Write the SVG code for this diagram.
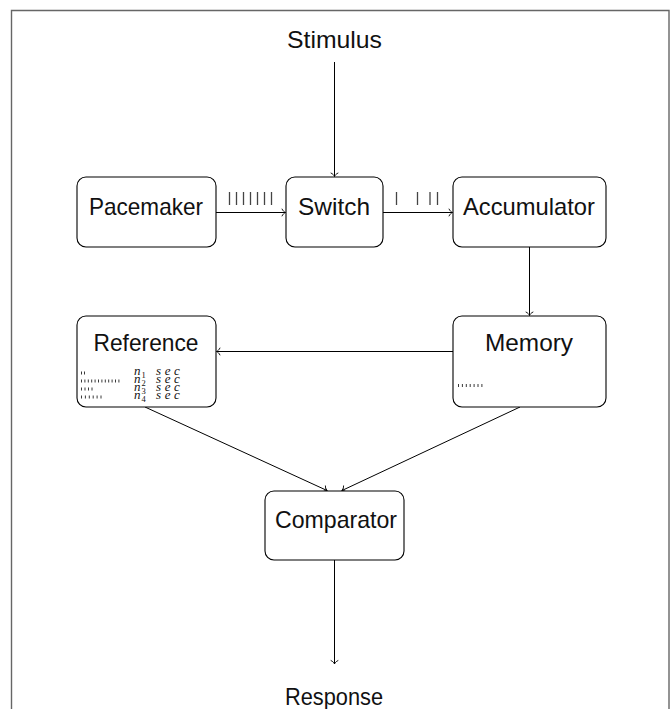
<svg xmlns="http://www.w3.org/2000/svg" width="671" height="709" viewBox="0 0 671 709">
<style>
.lbl{font-family:"Liberation Sans",Arial,sans-serif;font-size:24px;fill:#111}
.box{fill:#fff;stroke:#000;stroke-width:1.1}
.con{stroke:#000;stroke-width:1;fill:none}
.tick{stroke:#444;stroke-width:1.3}
.st{stroke:#222;stroke-width:0.9}
.m{font-family:"Liberation Serif","Times New Roman",serif;font-style:italic;font-size:13px;fill:#111}
.sec{font-family:"Liberation Serif","Times New Roman",serif;font-style:italic;font-size:13px;fill:#111;letter-spacing:3.6px}
.sub{font-family:"Liberation Serif","Times New Roman",serif;font-size:8.5px;fill:#111}
</style>
<defs>
<marker id="to" markerUnits="userSpaceOnUse" markerWidth="10" markerHeight="10" viewBox="-5 -5 10 10" refX="0" refY="0" orient="auto">
<path d="M-3.6,-3.8 C-2.6,-1.6 -1.1,-0.4 0,0 C-1.1,0.4 -2.6,1.6 -3.6,3.8" fill="none" stroke="#000" stroke-width="0.9"/>
</marker>
</defs>
<rect x="0" y="0" width="671" height="709" fill="#fff"/>
<path d="M11.5,720 V10.5 H669 V720" fill="none" stroke="#666" stroke-width="1.4"/>

<g id="connectors">
<line class="con" x1="334.5" y1="62" x2="334.5" y2="176.5" marker-end="url(#to)"/>
<line class="con" x1="216" y1="212.5" x2="285.5" y2="212.5" marker-end="url(#to)"/>
<line class="con" x1="383" y1="212.5" x2="452.5" y2="212.5" marker-end="url(#to)"/>
<line class="con" x1="529.5" y1="247" x2="529.5" y2="315.5" marker-end="url(#to)"/>
<line class="con" x1="453" y1="351.5" x2="216.5" y2="351.5" marker-end="url(#to)"/>
<line class="con" x1="145" y1="407" x2="327" y2="490.5" marker-end="url(#to)"/>
<line class="con" x1="520" y1="407" x2="342" y2="490.5" marker-end="url(#to)"/>
<line class="con" x1="334.5" y1="560" x2="334.5" y2="664" marker-end="url(#to)"/>
<g id="pulses-in">
<line class="tick" x1="229.5" y1="192" x2="229.5" y2="205"/>
<line class="tick" x1="236.5" y1="192" x2="236.5" y2="205"/>
<line class="tick" x1="243.5" y1="192" x2="243.5" y2="205"/>
<line class="tick" x1="250.5" y1="192" x2="250.5" y2="205"/>
<line class="tick" x1="257.5" y1="192" x2="257.5" y2="205"/>
<line class="tick" x1="264.5" y1="192" x2="264.5" y2="205"/>
<line class="tick" x1="271.5" y1="192" x2="271.5" y2="205"/>
</g>
<g id="pulses-out">
<line class="tick" x1="396.5" y1="192" x2="396.5" y2="205"/>
<line class="tick" x1="417.5" y1="192" x2="417.5" y2="205"/>
<line class="tick" x1="430" y1="192" x2="430" y2="205"/>
<line class="tick" x1="437.5" y1="192" x2="437.5" y2="205"/>
</g>
</g>

<g id="stimulus">
<text class="lbl" x="287" y="47.5" textLength="95" lengthAdjust="spacingAndGlyphs">Stimulus</text>
</g>

<g id="pacemaker">
<rect class="box" x="77" y="177" width="139" height="70" rx="9"/>
<text class="lbl" x="89" y="214.5" textLength="114" lengthAdjust="spacingAndGlyphs">Pacemaker</text>
</g>

<g id="switch">
<rect class="box" x="286" y="177" width="97" height="70" rx="9"/>
<text class="lbl" x="298" y="214.5" textLength="72" lengthAdjust="spacingAndGlyphs">Switch</text>
</g>

<g id="accumulator">
<rect class="box" x="453" y="177" width="153" height="70" rx="9"/>
<text class="lbl" x="463" y="214.5" textLength="132" lengthAdjust="spacingAndGlyphs">Accumulator</text>
</g>

<g id="reference">
<rect class="box" x="77" y="316" width="139" height="91" rx="9"/>
<text class="lbl" x="93.5" y="351" textLength="105" lengthAdjust="spacingAndGlyphs">Reference</text>
<g id="ref-table">
<path class="st" d="M81.5,371.5v3M84.5,371.5v3"/>
<path class="st" d="M81.5,379.5v3M84.9,379.5v3M88.3,379.5v3M91.7,379.5v3M95.1,379.5v3M98.5,379.5v3M101.9,379.5v3M105.3,379.5v3M108.7,379.5v3M112.1,379.5v3M115.5,379.5v3M118.9,379.5v3"/>
<path class="st" d="M81.5,387.5v3M85,387.5v3M88.5,387.5v3M92,387.5v3"/>
<path class="st" d="M81.5,395.5v3M85.4,395.5v3M89.3,395.5v3M93.2,395.5v3M97.1,395.5v3M101,395.5v3"/>
<text class="m" x="134" y="374.5">n</text><text class="sub" x="141.5" y="377.5">1</text>
<text class="sec" x="156" y="374.5">sec</text>
<text class="m" x="134" y="382.5">n</text><text class="sub" x="141.5" y="385.5">2</text>
<text class="sec" x="156" y="382.5">sec</text>
<text class="m" x="134" y="390.5">n</text><text class="sub" x="141.5" y="393.5">3</text>
<text class="sec" x="156" y="390.5">sec</text>
<text class="m" x="134" y="398.5">n</text><text class="sub" x="141.5" y="401.5">4</text>
<text class="sec" x="156" y="398.5">sec</text>
</g>
</g>

<g id="memory">
<rect class="box" x="453" y="316" width="153" height="91" rx="9"/>
<text class="lbl" x="485" y="350.5" textLength="88" lengthAdjust="spacingAndGlyphs">Memory</text>
<path class="st" d="M458.5,384v3M462.4,384v3M466.3,384v3M470.2,384v3M474.1,384v3M478,384v3M481.9,384v3"/>
</g>

<g id="comparator">
<rect class="box" x="265" y="491" width="139" height="69" rx="9"/>
<text class="lbl" x="275" y="528" textLength="122" lengthAdjust="spacingAndGlyphs">Comparator</text>
</g>

<g id="response">
<text class="lbl" x="285" y="705" textLength="98" lengthAdjust="spacingAndGlyphs">Response</text>
</g>
</svg>
